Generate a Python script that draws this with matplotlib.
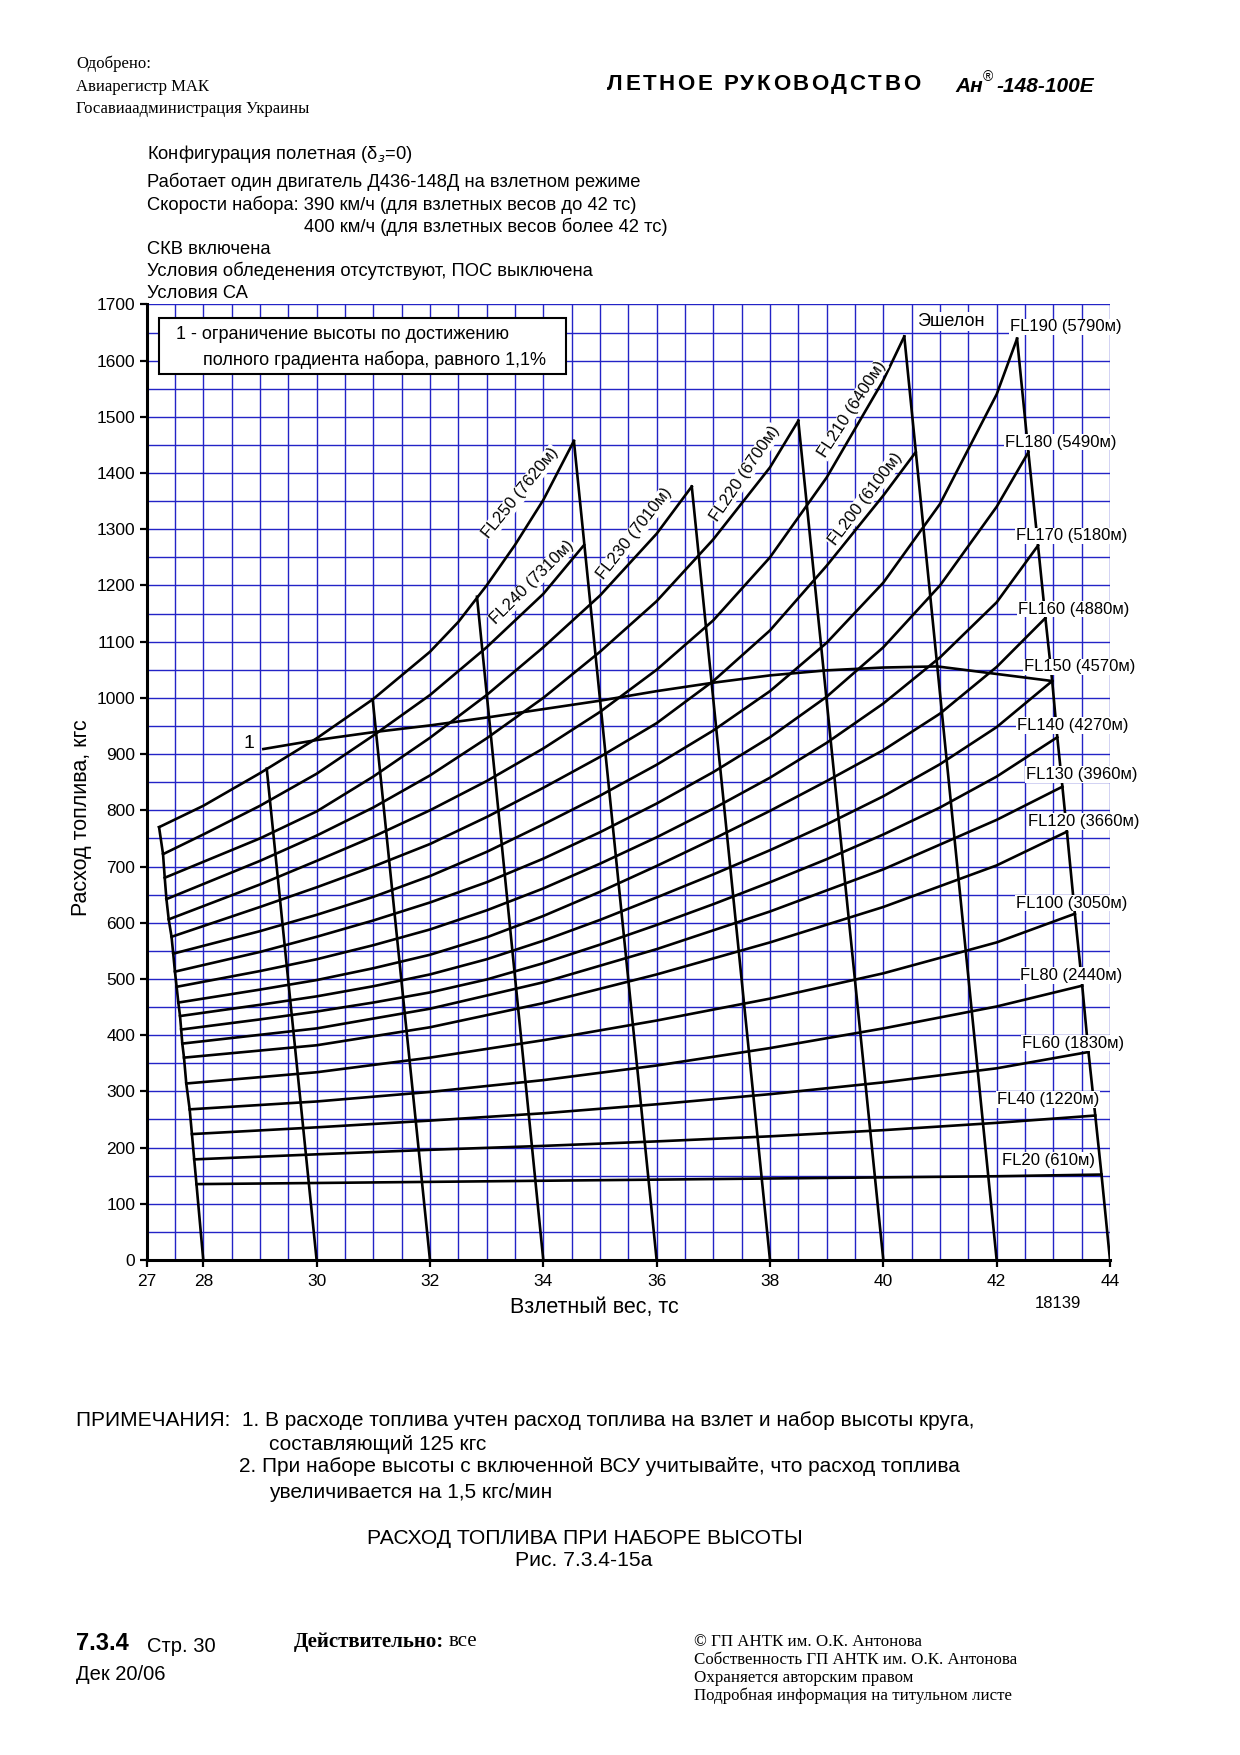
import numpy as np
import matplotlib.pyplot as plt
from matplotlib.patches import Rectangle

plt.rcParams['font.family'] = ['Liberation Sans', 'DejaVu Sans']
plt.rcParams['mathtext.fontset'] = 'dejavusans'

# взлетный вес, тс / расход топлива, кгс
FL20_W = [27.88, 30, 32, 34, 36, 38, 40, 42, 43.85]
FL20_Q = [135, 137, 139, 141, 143, 145, 147, 149, 152]
FL40_W = [27.84, 30, 32, 34, 36, 38, 40, 42, 43.74]
FL40_Q = [179, 188, 196, 203, 211, 220, 231, 244, 257]
FL60_W = [27.80, 30, 32, 34, 36, 38, 40, 42, 43.62]
FL60_Q = [224, 236, 248, 261, 277, 295, 316, 341, 370]
FL80_W = [27.76, 30, 32, 34, 36, 38, 40, 42, 43.51]
FL80_Q = [268, 282, 299, 320, 346, 377, 412, 451, 488]
FL100_W = [27.70, 30, 32, 34, 36, 38, 40, 42, 43.38]
FL100_Q = [314, 334, 360, 391, 426, 465, 510, 565, 616]
FL120_W = [27.66, 30, 32, 34, 36, 38, 40, 42, 43.24]
FL120_Q = [360, 382, 414, 457, 508, 565, 628, 702, 762]
FL130_W = [27.63, 30, 32, 34, 36, 38, 40, 42, 43.16]
FL130_Q = [385, 412, 447, 494, 553, 620, 695, 783, 842]
FL140_W = [27.61, 29, 30, 31, 32, 33, 34, 35, 36, 37, 38, 39, 40, 41, 42, 43.07]
FL140_Q = [410, 428, 442, 458, 476, 499, 528, 561, 596, 633, 672, 713, 757, 805, 860, 930]
FL150_W = [27.59, 29, 30, 31, 32, 33, 34, 35, 36, 37, 38, 39, 40, 41, 42, 42.98]
FL150_Q = [434, 454, 469, 487, 508, 535, 568, 605, 645, 686, 729, 775, 825, 882, 948, 1030]
FL160_W = [27.56, 29, 30, 31, 32, 33, 34, 35, 36, 37, 38, 39, 40, 41, 42, 42.86]
FL160_Q = [458, 481, 498, 519, 543, 574, 612, 655, 701, 749, 799, 852, 907, 972, 1055, 1142]
FL170_W = [27.53, 29, 30, 31, 32, 33, 34, 35, 36, 37, 38, 39, 40, 41, 42, 42.73]
FL170_Q = [486, 514, 535, 560, 588, 622, 661, 705, 752, 803, 858, 920, 990, 1072, 1170, 1271]
FL180_W = [27.50, 29, 30, 31, 32, 33, 34, 35, 36, 37, 38, 39, 40, 41, 42, 42.56]
FL180_Q = [513, 548, 575, 604, 636, 672, 714, 761, 812, 868, 930, 1002, 1090, 1200, 1340, 1437]
FL190_W = [27.47, 29, 30, 31, 32, 33, 34, 35, 36, 37, 38, 39, 40, 41, 42, 42.36]
FL190_Q = [545, 585, 614, 646, 683, 726, 775, 826, 881, 942, 1012, 1098, 1205, 1345, 1540, 1639]
FL200_W = [27.44, 29, 30, 31, 32, 33, 34, 35, 36, 37, 38, 39, 40, 40.57]
FL200_Q = [575, 628, 663, 700, 740, 788, 840, 895, 955, 1030, 1120, 1235, 1360, 1437]
FL210_W = [27.39, 29, 30, 31, 32, 33, 34, 35, 36, 37, 38, 39, 40, 40.37]
FL210_Q = [606, 668, 710, 753, 800, 852, 910, 975, 1050, 1138, 1250, 1392, 1565, 1643]
FL220_W = [27.35, 29, 30, 31, 32, 33, 34, 35, 36, 37, 38, 38.5]
FL220_Q = [642, 710, 755, 805, 862, 928, 1000, 1082, 1172, 1282, 1410, 1493]
FL230_W = [27.32, 29, 30, 31, 32, 33, 34, 35, 36, 36.62]
FL230_Q = [680, 750, 798, 860, 929, 1005, 1090, 1182, 1292, 1376]
FL240_W = [27.29, 28, 29, 30, 31, 32, 33, 34, 34.72]
FL240_Q = [722, 757, 808, 865, 933, 1005, 1090, 1185, 1272]
FL250_W = [27.22, 28, 29, 30, 31, 32, 32.5, 33, 33.5, 34, 34.54]
FL250_Q = [770, 808, 866, 928, 998, 1082, 1135, 1200, 1272, 1352, 1457]

# наклонные линии: вес у нуля -> верхняя точка
GUIDE_BASE = [30, 32, 34, 36, 38, 40, 42]
GUIDE_TOP_W = [29.12, 30.99, 32.83, 34.54, 36.62, 38.50, 40.37]
GUIDE_TOP_Q = [874, 997, 1180, 1457, 1376, 1493, 1643]

# линия 1 (ограничение по градиенту 1,1%)
LIM1_W = [29.06, 30, 31, 32, 33, 34, 35, 36, 37, 38, 39, 40, 40.95, 42.98]
LIM1_Q = [909, 925, 939, 951, 965, 980, 995, 1012, 1027, 1040, 1049, 1054, 1056, 1030]

X_TICKS = [27, 28, 30, 32, 34, 36, 38, 40, 42, 44]
Y_TICKS = list(range(0, 1701, 100))

curves = [
    ('FL20 (610м)', FL20_W, FL20_Q), ('FL40 (1220м)', FL40_W, FL40_Q),
    ('FL60 (1830м)', FL60_W, FL60_Q), ('FL80 (2440м)', FL80_W, FL80_Q),
    ('FL100 (3050м)', FL100_W, FL100_Q), ('FL120 (3660м)', FL120_W, FL120_Q),
    ('FL130 (3960м)', FL130_W, FL130_Q), ('FL140 (4270м)', FL140_W, FL140_Q),
    ('FL150 (4570м)', FL150_W, FL150_Q), ('FL160 (4880м)', FL160_W, FL160_Q),
    ('FL170 (5180м)', FL170_W, FL170_Q), ('FL180 (5490м)', FL180_W, FL180_Q),
    ('FL190 (5790м)', FL190_W, FL190_Q), ('FL200 (6100м)', FL200_W, FL200_Q),
    ('FL210 (6400м)', FL210_W, FL210_Q), ('FL220 (6700м)', FL220_W, FL220_Q),
    ('FL230 (7010м)', FL230_W, FL230_Q), ('FL240 (7310м)', FL240_W, FL240_Q),
    ('FL250 (7620м)', FL250_W, FL250_Q),
]

W, H = 1240, 1755
fig = plt.figure(figsize=(W / 100, H / 100), dpi=100)
rend = fig.canvas.get_renderer()


def ftxt(x, y, s, **kw):
    # текст страницы в пикселях от левого верхнего угла
    return fig.text(x / W, 1 - y / H, s, **kw)


def spaced(x0, x1, y, s, **kw):
    # разрядка: растягиваем строку от x0 до x1
    ts = [ftxt(0, y, ch, **kw) for ch in s]
    ws = [t.get_window_extent(rend).width for t in ts]
    gap = (x1 - x0 - sum(ws)) / (len(s) - 1)
    x = x0
    for t, w in zip(ts, ws):
        t.set_x(x / W)
        x += w + gap


ax = fig.add_axes([146.6 / W, 1 - 1260 / H, (1110 - 146.6) / W, (1260 - 304.4) / H])
ax.set_xlim(27, 44)
ax.set_ylim(0, 1700)

grid_c = '#2323c6'
ax.vlines(np.arange(27.5, 44.01, 0.5), 0, 1700, color=grid_c, lw=1.0, zorder=1)
ax.hlines(np.arange(50, 1700.1, 50), 27, 44, color=grid_c, lw=1.0, zorder=1)

k = dict(color='black', lw=1.9, zorder=3, solid_joinstyle='miter')
for name, w, q in curves:
    ax.plot(w, q, **k)

# левая и правая границы через концы кривых
ax.plot([c[1][0] for c in curves[::-1]] + [28], [c[2][0] for c in curves[::-1]] + [0], **k)
ax.plot([c[1][-1] for c in curves[:13]][::-1] + [44], [c[2][-1] for c in curves[:13]][::-1] + [0], **k)
for b, tw, tq in zip(GUIDE_BASE, GUIDE_TOP_W, GUIDE_TOP_Q):
    ax.plot([tw, b], [tq, 0], **k)
ax.plot(LIM1_W, LIM1_Q, **k)
ax.text(28.8, 918, '1', fontsize=14, ha='center', va='center', zorder=4)

# подписи эшелонов справа
lab_pos = {
    'FL190 (5790м)': (42.24, 1660), 'FL180 (5490м)': (42.14, 1455),
    'FL170 (5180м)': (42.34, 1288), 'FL160 (4880м)': (42.38, 1158),
    'FL150 (4570м)': (42.48, 1055), 'FL140 (4270м)': (42.36, 951),
    'FL130 (3960м)': (42.52, 864), 'FL120 (3660м)': (42.56, 780),
    'FL100 (3050м)': (42.34, 635), 'FL80 (2440м)': (42.42, 506),
    'FL60 (1830м)': (42.44, 386), 'FL40 (1220м)': (42.00, 285),
    'FL20 (610м)': (42.10, 177),
}
wb = dict(facecolor='white', edgecolor='none', pad=0.6)
for name, (x, y) in lab_pos.items():
    ax.text(x, y, name, fontsize=12, va='center', ha='left', bbox=wb, zorder=5)
ax.text(40.6, 1670, 'Эшелон', fontsize=13, va='center', ha='left', bbox=wb, zorder=5)

rot_pos = {
    'FL250 (7620м)': (33.6, 1365, 51), 'FL240 (7310м)': (33.81, 1206, 45),
    'FL230 (7010м)': (35.61, 1292, 52), 'FL220 (6700м)': (37.56, 1399, 56),
    'FL210 (6400м)': (39.44, 1513, 57), 'FL200 (6100м)': (39.68, 1353, 53),
}
for name, (x, y, r) in rot_pos.items():
    ax.text(x, y, name, fontsize=12, rotation=r, rotation_mode='anchor',
            ha='center', va='center', bbox=wb, zorder=5)

ax.add_patch(Rectangle((27.22, 1576), 34.4 - 27.22, 100, facecolor='white',
                       edgecolor='black', lw=1.5, zorder=6))
ax.text(27.51, 1646, '1 - ограничение высоты по достижению', fontsize=13, va='center', zorder=7)
ax.text(27.99, 1602, 'полного градиента набора, равного 1,1%', fontsize=13, va='center', zorder=7)

for s in ['top', 'right']:
    ax.spines[s].set_visible(False)
for s in ['left', 'bottom']:
    ax.spines[s].set_linewidth(2.2)
    ax.spines[s].set_zorder(4)
ax.set_xticks(X_TICKS)
ax.set_yticks(Y_TICKS)
ax.tick_params(direction='out', length=5, width=1.6, labelsize=12.5)
ax.tick_params(axis='x', pad=5)
ax.tick_params(axis='y', pad=3)

ftxt(594, 1307, 'Взлетный вес, тс', fontsize=15.5, ha='center', va='center')
ftxt(81, 818, 'Расход топлива, кгс', fontsize=15.5, rotation=90, ha='center', va='center')
ftxt(1058, 1304, '18139', fontsize=12, ha='center', va='center')

# шапка
serif = ['Liberation Serif', 'DejaVu Serif']
ftxt(76, 64, 'Одобрено:', family=serif, fontsize=12, va='center')
ftxt(76, 87, 'Авиарегистр МАК', family=serif, fontsize=12, va='center')
ftxt(76, 109, 'Госавиаадминистрация Украины', family=serif, fontsize=12, va='center')
spaced(607, 920, 84, 'ЛЕТНОЕ РУКОВОДСТВО', fontsize=16, weight='bold', va='center')
ftxt(955, 86, 'Ан', fontsize=15, weight='bold', style='italic', va='center')
ftxt(983, 77, '®', fontsize=10, va='center')
ftxt(996, 86, '-148-100Е', fontsize=15, weight='bold', style='italic', va='center')

cond = [
    (147, 154, 'Конфигурация полетная (δ$_{з}$=0)'),
    (147, 182, 'Работает один двигатель Д436-148Д на взлетном режиме'),
    (147, 205, 'Скорости набора: 390 км/ч (для взлетных весов до 42 тс)'),
    (304, 227, '400 км/ч (для взлетных весов более 42 тс)'),
    (147, 249, 'СКВ включена'),
    (147, 271, 'Условия обледенения отсутствуют, ПОС выключена'),
    (147, 293, 'Условия СА'),
]
for x, y, s in cond:
    ftxt(x, y, s, fontsize=13.2, va='center')

notes = [
    (76, 1421, 'ПРИМЕЧАНИЯ:  1. В расходе топлива учтен расход топлива на взлет и набор высоты круга,'),
    (269, 1444, 'составляющий 125 кгс'),
    (239, 1467, '2. При наборе высоты с включенной ВСУ учитывайте, что расход топлива'),
    (269, 1492, 'увеличивается на 1,5 кгс/мин'),
]
for x, y, s in notes:
    ftxt(x, y, s, fontsize=15, va='center')
ftxt(585, 1538, 'РАСХОД ТОПЛИВА ПРИ НАБОРЕ ВЫСОТЫ', fontsize=15.2, ha='center', va='center')
ftxt(584, 1561, 'Рис. 7.3.4-15а', fontsize=15.2, ha='center', va='center')

# подвал
ftxt(76, 1644, '7.3.4', fontsize=17, weight='bold', va='center')
ftxt(147, 1646, 'Стр. 30', fontsize=14.5, va='center')
ftxt(76, 1674, 'Дек 20/06', fontsize=14.5, va='center')
ftxt(294, 1642, 'Действительно:', family=serif, fontsize=15, weight='bold', va='center')
ftxt(449, 1642, 'все', family=serif, fontsize=15, va='center')
foot = ['© ГП АНТК им. О.К. Антонова', 'Собственность ГП АНТК им. О.К. Антонова',
        'Охраняется авторским правом', 'Подробная информация на титульном листе']
for i, s in enumerate(foot):
    ftxt(694, 1642 + i * 18, s, family=serif, fontsize=12.2, va='center')

fig.savefig('out.png', dpi=100)
